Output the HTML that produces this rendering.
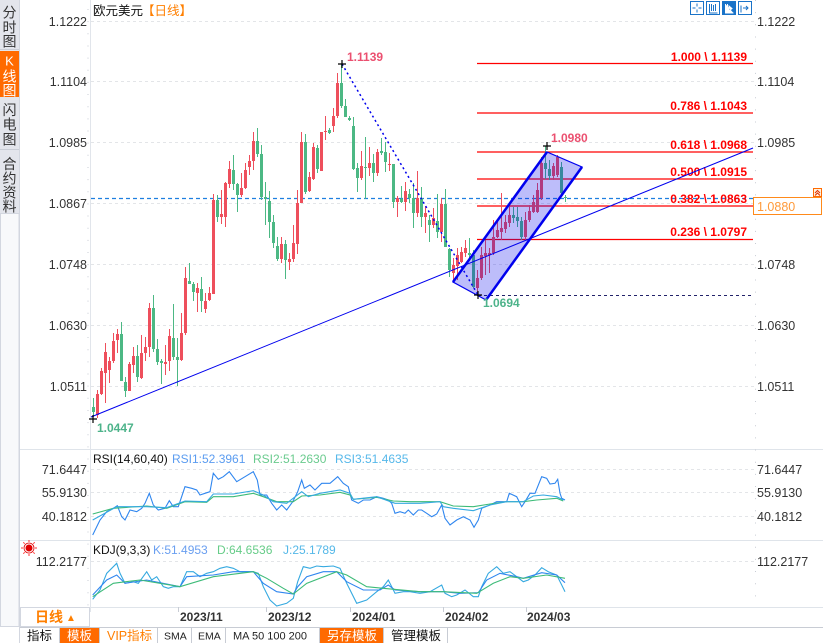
<!DOCTYPE html>
<html><head><meta charset="utf-8">
<style>
html,body{margin:0;padding:0;background:#fff;}
svg{display:block;}
text{font-family:"Liberation Sans","Noto Sans CJK SC",sans-serif;}
</style></head>
<body>
<svg width="823" height="643" viewBox="0 0 823 643" xmlns="http://www.w3.org/2000/svg">
<rect x="0" y="0" width="823" height="643" fill="#fff"/>

<!-- left sidebar -->
<rect x="0" y="0" width="19" height="213" fill="#e3e5ec"/>
<rect x="0" y="51" width="19" height="46" fill="#ff6a00"/>
<rect x="0.5" y="213.5" width="18.5" height="413" fill="#f8f9fb" stroke="#d3d7e0"/>
<line x1="0" y1="49.5" x2="19" y2="49.5" stroke="#c9cdd6"/>
<line x1="0" y1="149.5" x2="19" y2="149.5" stroke="#c9cdd6"/>
<g font-size="14" fill="#333" text-anchor="middle">
<text x="9.5" y="17.5">分</text><text x="9.5" y="32.5">时</text><text x="9.5" y="46.5">图</text>
<text x="9.5" y="65.5" fill="#fff" font-size="13" font-family="Liberation Serif,serif">K</text><text x="9.5" y="81.5" fill="#fff">线</text><text x="9.5" y="95.5" fill="#fff">图</text>
<text x="9.5" y="115">闪</text><text x="9.5" y="129.5">电</text><text x="9.5" y="144.5">图</text>
<text x="9.5" y="169">合</text><text x="9.5" y="183.5">约</text><text x="9.5" y="197.5">资</text><text x="9.5" y="211.5">料</text>
</g>
<line x1="19.5" y1="0" x2="19.5" y2="643" stroke="#d3d7e0"/>

<!-- panel separators -->
<line x1="20" y1="449.5" x2="823" y2="449.5" stroke="#dfe4ea"/>
<line x1="20" y1="540.5" x2="823" y2="540.5" stroke="#dfe4ea"/>
<line x1="20" y1="607.5" x2="823" y2="607.5" stroke="#dfe4ea"/>
<!-- axes -->
<line x1="90.5" y1="0" x2="90.5" y2="612" stroke="#e1e5eb"/>
<line x1="88" y1="9" x2="88" y2="607" stroke="#c8ccd4" stroke-dasharray="1,11.15"/>
<line x1="755.5" y1="0" x2="755.5" y2="607" stroke="#c8ccd4" stroke-dasharray="1,11.15"/>

<!-- main gridlines -->
<g stroke="#e3e5e8" stroke-dasharray="3,3">
<line x1="91" y1="21.5" x2="755" y2="21.5"/>
<line x1="91" y1="81.5" x2="755" y2="81.5"/>
<line x1="91" y1="142.5" x2="755" y2="142.5"/>
<line x1="91" y1="203.5" x2="755" y2="203.5"/>
<line x1="91" y1="264.5" x2="755" y2="264.5"/>
<line x1="91" y1="325.5" x2="755" y2="325.5"/>
<line x1="91" y1="386.5" x2="755" y2="386.5"/>
<line x1="91" y1="469.5" x2="755" y2="469.5"/>
<line x1="91" y1="492.5" x2="755" y2="492.5"/>
<line x1="91" y1="516.5" x2="755" y2="516.5"/>
<line x1="91" y1="561.5" x2="755" y2="561.5"/>
</g>

<!-- axis labels -->
<g font-size="12.5" fill="#333">
<g text-anchor="end">
<text x="87" y="26">1.1222</text><text x="87" y="86">1.1104</text><text x="87" y="147">1.0985</text>
<text x="87" y="208">1.0867</text><text x="87" y="269">1.0748</text><text x="87" y="330">1.0630</text>
<text x="87" y="391">1.0511</text>
<text x="87" y="474">71.6447</text><text x="87" y="497">55.9130</text><text x="87" y="521">40.1812</text>
<text x="87" y="566">112.2177</text>
</g>
<text x="757" y="26">1.1222</text><text x="757" y="86">1.1104</text><text x="757" y="147">1.0985</text>
<text x="757" y="269">1.0748</text><text x="757" y="330">1.0630</text>
<text x="757" y="391">1.0511</text>
<text x="757" y="474">71.6447</text><text x="757" y="497">55.9130</text><text x="757" y="521">40.1812</text>
<text x="757" y="566">112.2177</text>
</g>

<!-- title -->
<text x="93" y="15" font-size="12.5" fill="#111">欧元美元</text>
<text x="142" y="15" font-size="12.5" fill="#ff7f00">【日线】</text>

<!-- top-right icons -->
<g stroke="#1a73c8" fill="#fff" stroke-width="1">
<rect x="690.5" y="1.5" width="13" height="13"/>
<rect x="706.5" y="1.5" width="13" height="13"/>
<rect x="722.5" y="1.5" width="13" height="13" fill="#1a73c8"/>
<rect x="738.5" y="1.5" width="13" height="13"/>
</g>
<g stroke="#1a73c8" stroke-width="1" fill="none">
<path d="M697 3.5v3M697 9.5v3M692.5 8h3M698.5 8h3"/>
<path d="M709.5 4v9h8M711.5 4v7M713.5 5v6M715.5 4v7"/>
<path d="M741 5.5v7M743 8h5M746 6l2 2-2 2"/>
</g>
<path d="M725.5 4v9h8M727.5 4v7M729 6l3 2.5-3 2.5z" stroke="#fff" fill="#fff" stroke-width="1"/>

<!-- current price dashed line -->
<line x1="91" y1="198.5" x2="755" y2="198.5" stroke="#1e7fe0" stroke-width="1.2" stroke-dasharray="4,3"/>

<!-- fib levels -->
<g stroke="#ff0000" stroke-width="1.3">
<line x1="477" y1="63.5" x2="753" y2="63.5"/>
<line x1="477" y1="113" x2="753" y2="113"/>
<line x1="477" y1="152" x2="753" y2="152"/>
<line x1="477" y1="179" x2="753" y2="179"/>
<line x1="477" y1="206" x2="753" y2="206"/>
<line x1="477" y1="239.5" x2="753" y2="239.5"/>
</g>
<line x1="478" y1="295.5" x2="752" y2="295.5" stroke="#22226a" stroke-width="1" stroke-dasharray="3,3"/>
<g font-size="12" font-weight="bold" fill="#ff0000" text-anchor="end">
<text x="747" y="61">1.000 \ 1.1139</text>
<text x="747" y="110">0.786 \ 1.1043</text>
<text x="747" y="149">0.618 \ 1.0968</text>
<text x="747" y="176">0.500 \ 1.0915</text>
<text x="747" y="203">0.382 \ 1.0863</text>
<text x="747" y="236">0.236 \ 1.0797</text>
</g>

<!-- candles red -->
<path stroke="#ee4f5c" stroke-width="1" fill="none" d="M97.5 390V418M101.5 368V395M105.5 343V403M109.5 357V383M113.5 333V363M117.5 329V353M129.5 362V391M133.5 347V373M141.5 335V379M145.5 337V361M149.5 303V357M165.5 345V375M169.5 329V371M181.5 313V361M185.5 267V335M197.5 283V312M205.5 293V313M209.5 287V301M213.5 194V294M221.5 190V224M225.5 182V227M229.5 161V188M241.5 173V197M245.5 163V189M249.5 155V175M253.5 132V170M281.5 237V263M289.5 253V270M293.5 225V262M297.5 190V254M301.5 132V203M309.5 172V192M313.5 143V180M321.5 132V171M325.5 116V140M333.5 108V132M337.5 73V118M361.5 151V180M369.5 147V176M377.5 149V176M389.5 153V171M397.5 196V217M405.5 182V211M417.5 171V217M425.5 206V233M433.5 208V228M441.5 198V242M453.5 258V280M457.5 248V280M461.5 247V263M465.5 240V257M477.5 270V296M481.5 247V280M485.5 240V275M489.5 248V273M493.5 220V255M497.5 220V238M501.5 193V240M505.5 215V233M509.5 206V227M525.5 212V240M529.5 205V222M533.5 195V213M537.5 183V213M541.5 157V200M553.5 163V180M557.5 155V177"/>
<path fill="#ee4f5c" d="M96 394h3v21h-3zM100 371h3v23h-3zM104 352h3v21h-3zM108 361h3v9h-3zM112 341h3v20h-3zM116 334h3v6h-3zM128 364h3v27h-3zM132 356h3v9h-3zM140 353h3v25h-3zM144 347h3v6h-3zM148 308h3v39h-3zM164 362h3v2h-3zM168 336h3v25h-3zM180 333h3v27h-3zM184 278h3v55h-3zM196 288h3v5h-3zM204 301h3v8h-3zM208 293h3v7h-3zM212 200h3v94h-3zM220 214h3v3h-3zM224 183h3v34h-3zM228 169h3v15h-3zM240 188h3v7h-3zM244 170h3v18h-3zM248 161h3v6h-3zM252 141h3v20h-3zM280 244h3v15h-3zM288 259h3v3h-3zM292 243h3v16h-3zM296 203h3v41h-3zM300 142h3v61h-3zM308 177h3v14h-3zM312 147h3v32h-3zM320 132h3v39h-3zM324 131h3v1h-3zM332 116h3v10h-3zM336 83h3v33h-3zM360 166h3v12h-3zM368 163h3v5h-3zM376 152h3v21h-3zM388 164h3v1h-3zM396 198h3v4h-3zM404 191h3v11h-3zM416 198h3v15h-3zM424 213h3v4h-3zM432 218h3v7h-3zM440 204h3v28h-3zM452 265h3v8h-3zM456 255h3v11h-3zM460 252h3v10h-3zM464 248h3v5h-3zM476 278h3v10h-3zM480 255h3v23h-3zM484 253h3v3h-3zM488 253h3v2h-3zM492 237h3v16h-3zM496 230h3v7h-3zM500 228h3v4h-3zM504 222h3v7h-3zM508 215h3v8h-3zM524 220h3v17h-3zM528 211h3v9h-3zM532 202h3v10h-3zM536 190h3v22h-3zM540 163h3v35h-3zM552 166h3v10h-3zM556 157h3v18h-3z"/>
<!-- candles green -->
<path stroke="#4cb884" stroke-width="1" fill="none" d="M93.5 398V417M121.5 322V381M125.5 377V397M137.5 345V382M153.5 295V352M157.5 339V365M161.5 359V384M173.5 304V360M177.5 338V386M189.5 263V284M193.5 282V301M201.5 277V312M217.5 195V222M233.5 155V190M237.5 183V212M257.5 128V157M261.5 145V200M265.5 182V225M269.5 191V238M273.5 215V248M277.5 237V261M285.5 240V279M305.5 134V194M317.5 145V173M329.5 128V134M341.5 64V108M345.5 99V117M349.5 116V121M353.5 117V170M357.5 163V192M365.5 137V199M373.5 154V182M381.5 138V155M385.5 142V172M393.5 164V208M401.5 186V203M409.5 189V203M413.5 183V228M421.5 187V227M429.5 215V242M437.5 194V238M445.5 189V247M449.5 248V277M469.5 238V260M473.5 250V288M513.5 207V223M517.5 207V227M521.5 217V240M545.5 146V179M549.5 160V180M561.5 162V195M565.5 195V202"/>
<path fill="#4cb884" d="M92 407h3v5h-3zM120 334h3v47h-3zM124 382h3v9h-3zM136 356h3v21h-3zM152 308h3v41h-3zM156 349h3v13h-3zM160 361h3v2h-3zM172 338h3v19h-3zM176 357h3v3h-3zM188 281h3v3h-3zM192 284h3v8h-3zM200 289h3v12h-3zM216 200h3v17h-3zM232 170h3v14h-3zM236 184h3v11h-3zM256 141h3v13h-3zM260 154h3v43h-3zM264 197h3v2h-3zM268 201h3v21h-3zM272 222h3v21h-3zM276 246h3v13h-3zM284 244h3v16h-3zM304 142h3v50h-3zM316 148h3v21h-3zM328 130h3v3h-3zM340 83h3v23h-3zM344 106h3v11h-3zM348 118h3v2h-3zM352 126h3v43h-3zM356 168h3v10h-3zM364 167h3v1h-3zM372 163h3v10h-3zM380 151h3v2h-3zM384 152h3v10h-3zM392 164h3v38h-3zM400 199h3v3h-3zM408 194h3v4h-3zM412 198h3v15h-3zM420 198h3v19h-3zM428 220h3v5h-3zM436 221h3v11h-3zM444 204h3v43h-3zM448 249h3v21h-3zM468 253h3v2h-3zM472 255h3v32h-3zM512 215h3v3h-3zM516 217h3v4h-3zM520 221h3v16h-3zM544 163h3v6h-3zM548 169h3v7h-3zM560 167h3v26h-3zM564 197h3v1h-3z"/>

<!-- trend lines -->
<line x1="91" y1="417" x2="753" y2="148" stroke="#0000ee" stroke-width="1"/>
<line x1="342" y1="64" x2="478" y2="295" stroke="#0000ee" stroke-width="1.5" stroke-dasharray="2,3"/>
<!-- channel -->
<polygon points="453,282 547,152 582,167 486,300" fill="rgba(0,0,235,0.26)" stroke="#0000ee" stroke-width="1.2"/>
<line x1="453" y1="282" x2="547" y2="152" stroke="#0000ee" stroke-width="2.5"/>
<line x1="486" y1="300" x2="582" y2="167" stroke="#0000ee" stroke-width="2.5"/>

<!-- markers -->
<g stroke="#000" stroke-width="1.2">
<path d="M338 64h8M342 60v8"/>
<path d="M89 419h8M93 415v8"/>
<path d="M543 146h8M547 142v8"/>
<path d="M474 295h8M478 291v8"/>
</g>
<g font-size="12" font-weight="bold">
<text x="347" y="61" fill="#eb5070">1.1139</text>
<text x="551" y="142" fill="#eb5070">1.0980</text>
<text x="483" y="307" fill="#4db38a">1.0694</text>
<text x="97" y="432" fill="#4db38a">1.0447</text>
</g>

<!-- current price box -->
<rect x="753.5" y="197.5" width="68" height="17" fill="#fff" stroke="#ff8a1a"/>
<text x="757" y="211" font-size="12.5" fill="#ff9a3a">1.0880</text>
<rect x="813.5" y="188.5" width="8" height="8" fill="#fff3e0" stroke="#ff6a00"/>
<path d="M815 193l2.5-2.5 2.5 2.5M815 195.5l2.5-2.5 2.5 2.5" stroke="#e03000" fill="none" stroke-width="1"/>

<!-- RSI -->
<g font-size="12">
<text x="93" y="463" fill="#111">RSI(14,60,40)</text>
<text x="172" y="463" fill="#5b9cf0">RSI1:52.3961</text>
<text x="253" y="463" fill="#6acb8e">RSI2:51.2630</text>
<text x="335" y="463" fill="#56b8ea">RSI3:51.4635</text>
</g>
<g fill="none" stroke-width="1.1">
<polyline stroke="#2f86ef" points="92.7,535 100,520 106.7,511.7 113.3,508.3 117.3,505.7 121.7,516.7 125,520 130,510 136.7,511.7 141.7,508.3 145,503.3 149.3,493.3 153.3,505 158.3,510 165,508.3 169.3,500.7 173.3,506.7 178.3,506.7 185,486.7 191.7,488.3 196.7,490 200,495 205,493.3 210,491.7 213.3,473.3 218.3,479.3 223.3,476.7 229.3,471.7 236.7,481.7 245,476.7 253.3,471.7 257.3,480 260,495 266.7,495 271.7,503.3 276.7,510 281.7,505 286.7,510 292.7,501.7 297.7,491.7 301.7,480 304.3,488.3 310,485 315,490 321.7,483.3 330,483.3 337.7,476.7 343.3,483.3 348.3,486.7 351.7,500 358.3,503.3 363.3,500 370,500 376.7,496.7 383.3,498.3 388.3,500 391.7,503.3 395,513.3 400,511.7 405,513.3 408.3,510 413.3,515 418.3,510 421.7,510 426.7,513.3 431.7,516.7 436.7,514 441.7,505 445,518.3 450,525 456.7,520 463.3,516.7 470,520 474,527.3 478.3,520 481.7,508.3 490,505 496.7,501.7 506.7,501.7 509.3,493.3 516.7,496.7 521.7,506.7 525,501.7 530,493.3 535,493.3 541.7,476.7 546.7,478.3 550,484 555,483.3 557.7,479.3 560,493.3 561.7,498.3 565,500"/>
<polyline stroke="#3dbb78" points="92.7,514 113.3,508.3 146.7,506 166.7,508.3 185,501.7 206.7,502.3 213.3,496.7 233.3,496.7 253.3,493.3 263.3,496.7 276.7,501.7 293.3,501.7 301.7,496 320,495 340,492.3 350,495 353.3,499.3 376.7,497.3 393.3,501 410,501.7 440,501.7 453.3,506 473.3,506.7 490,504 506.7,501.7 523.3,501.7 536.7,500 556.7,498.3 563.3,501"/>
<polyline stroke="#35a9e0" points="92.7,520 116.7,506.7 146.7,506.7 166.7,507.7 185,501 206.7,501.7 213.3,494 233.3,494 253.3,490.7 263.3,495 273.3,501.7 286.7,503.3 301.7,491.7 308.3,496.7 320,493.3 340,490 350,493.3 353.3,499.3 376.7,496.7 395,503.3 420,503.3 440,501.7 443.3,506.7 453.3,508.3 473.3,510.7 490,505 506.7,501.7 523.3,501.7 533.3,496 543.3,495 556.7,496.7 563.3,500"/>
</g>

<!-- KDJ -->
<g transform="translate(29,548)">
<circle r="3.5" fill="#e00000"/><circle r="5" fill="none" stroke="#e00000" stroke-width="0.8"/>
<path d="M0-8v2M0 6v2M-8 0h2M6 0h2M-5.7-5.7l1.4 1.4M4.3 4.3l1.4 1.4M-5.7 5.7l1.4-1.4M4.3-4.3l1.4-1.4" stroke="#ff3030" stroke-width="1"/>
</g>
<g font-size="12">
<text x="93" y="554" fill="#111">KDJ(9,3,3)</text>
<text x="153" y="554" fill="#6a9ff0">K:51.4953</text>
<text x="217" y="554" fill="#66cc88">D:64.6536</text>
<text x="283" y="554" fill="#55b8e8">J:25.1789</text>
</g>
<g fill="none" stroke-width="1.1">
<polyline stroke="#35a9e0" points="92.7,599.3 100,590 106.7,573.3 116.7,563.3 120,573.3 125,583.3 133.3,581.7 138.3,583.3 146.7,571.7 151.7,580 156.7,576.7 163.3,586.7 168.3,588.3 173.3,586.7 180,586.7 186.7,571.7 193.3,571.7 200,576.7 206.7,573.3 213.3,571.7 220,568.3 226.7,566.7 233.3,568.3 240,571.7 253.3,571.7 258.3,573.3 263.3,586.7 270,600 276.7,606 286.7,603.3 293.3,598.3 297.7,581.7 303.3,566.7 310,568.3 316.7,566 323.3,566.7 333.3,566 340,568.3 346.7,583.3 356.7,603.3 366.7,600 376.7,591.7 383.3,586.7 388.3,580 395,593.3 403.3,591.7 410,591.7 420,593.3 430,591.7 441.7,585 445,593.3 451.7,596.7 456.7,595 465,590 473.3,596.7 478.3,596.7 481.7,586.7 488.3,573.3 496.7,566.7 503.3,573.3 510,571.7 516.7,576.7 523.3,581.7 528.3,580 535,575 541.7,567.7 548.3,571.7 556.7,575 561.7,585 565,591.7"/>
<polyline stroke="#2f86ef" points="92.7,595 106.7,580 116.7,575 125,583.3 146.7,580 180,586.7 186.7,576.7 213.3,575 233.3,571.7 253.3,571.7 263.3,583.3 276.7,591.7 293.3,594 297.7,586.7 306.7,576.7 323.3,571.7 336.7,571.7 346.7,581.7 363.3,590 380,590 388.3,585 395,590 420,591.7 443.3,591.7 460,593.3 478.3,592.7 486.7,580 500,573.3 516.7,576.7 523.3,578.3 541.7,572.7 556.7,575 565,582.7"/>
<polyline stroke="#3dbb78" points="92.7,596.7 113.3,583.3 140,580 180,586.7 213.3,576.7 253.3,571.7 266.7,578.3 283.3,588.3 293.3,594 306.7,583.3 336.7,571.7 346.7,575 366.7,586.7 383.3,588.3 420,591.7 443.3,591.7 476.7,593.3 493.3,583.3 510,576.7 523.3,578.3 546.7,575 565,578.3"/>
</g>

<!-- date axis -->
<g stroke="#c8ccd4">
<line x1="178.5" y1="607" x2="178.5" y2="612"/>
<line x1="266.5" y1="607" x2="266.5" y2="612"/>
<line x1="350.5" y1="607" x2="350.5" y2="612"/>
<line x1="443.5" y1="607" x2="443.5" y2="612"/>
<line x1="526.5" y1="607" x2="526.5" y2="612"/>
</g>
<g font-size="12" font-weight="bold" fill="#333">
<text x="180" y="621">2023/11</text>
<text x="268" y="621">2023/12</text>
<text x="352" y="621">2024/01</text>
<text x="445" y="621">2024/02</text>
<text x="527" y="621">2024/03</text>
</g>
<rect x="20.5" y="607.5" width="69" height="19" fill="#fff" stroke="#d3d7e0"/>
<text x="35" y="622" font-size="14" font-weight="bold" fill="#ff7f00">日线</text>
<text x="66" y="621" font-size="10" fill="#ff7f00">▲</text>

<!-- bottom toolbar -->
<line x1="20" y1="627.5" x2="823" y2="627.5" stroke="#c8ccd4"/>
<rect x="60" y="628" width="39" height="15" fill="#ff6a00"/>
<rect x="320" y="628" width="63" height="15" fill="#ff6a00"/>
<g stroke="#c8ccd4">
<line x1="59.5" y1="628" x2="59.5" y2="643"/>
<line x1="99.5" y1="628" x2="99.5" y2="643"/>
<line x1="157.5" y1="628" x2="157.5" y2="643"/>
<line x1="191.5" y1="628" x2="191.5" y2="643"/>
<line x1="225.5" y1="628" x2="225.5" y2="643"/>
<line x1="319.5" y1="628" x2="319.5" y2="643"/>
<line x1="383.5" y1="628" x2="383.5" y2="643"/>
<line x1="447.5" y1="628" x2="447.5" y2="643"/>
</g>
<g font-size="12.5">
<text x="27" y="640" fill="#111">指标</text>
<text x="67" y="640" fill="#fff">模板</text>
<text x="107" y="640" fill="#ff7f00" font-family="Liberation Serif,'Noto Sans CJK SC',serif">VIP指标</text>
<text x="164" y="639.5" fill="#222" font-size="10.5" font-family="Liberation Serif,serif">SMA</text>
<text x="198" y="639.5" fill="#222" font-size="10.5" font-family="Liberation Serif,serif">EMA</text>
<text x="233" y="639.5" fill="#222" font-size="11" font-family="Liberation Mono,monospace">MA 50 100 200</text>
<text x="327" y="640" fill="#fff">另存模板</text>
<text x="391" y="640" fill="#111">管理模板</text>
</g>
</svg>
</body></html>
